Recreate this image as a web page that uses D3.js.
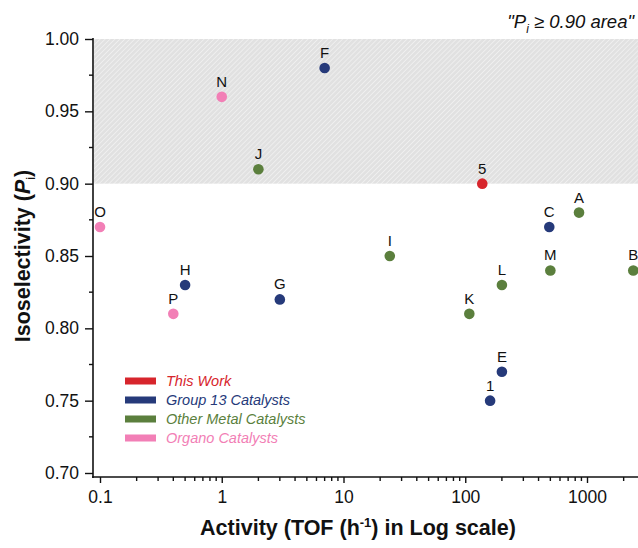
<!DOCTYPE html>
<html>
<head>
<meta charset="utf-8">
<script src="https://cdn.jsdelivr.net/npm/d3@7/dist/d3.min.js"></script>
<style>
  body { margin: 0; background: #fff; }
  svg { font-family: "Liberation Sans", Arial, sans-serif; }
</style>
</head>
<body>
<div id="chart"></div>
<script>
// data
const labels   = ['5', '1', 'A', 'B', 'C', 'E', 'F', 'G', 'H', 'I', 'J', 'K', 'L', 'M', 'N', 'O', 'P'];
const activity = [138, 160, 860, 2400, 490, 200, 7, 3, 0.5, 24, 2, 108, 200, 500, 1, 0.1, 0.4];
const isosel   = [0.90, 0.75, 0.88, 0.84, 0.87, 0.77, 0.98, 0.82, 0.83, 0.85, 0.91, 0.81, 0.83, 0.84, 0.96, 0.87, 0.81];
const groups   = ['work', 'g13', 'metal', 'metal', 'g13', 'g13', 'g13', 'g13', 'g13', 'metal', 'metal', 'metal', 'metal', 'metal', 'organo', 'organo', 'organo'];

const legendKeys  = ['work', 'g13', 'metal', 'organo'];
const legendNames = ['This Work', 'Group 13 Catalysts', 'Other Metal Catalysts', 'Organo Catalysts'];
const groupColors = ['#d7252c', '#263a7a', '#5b7f3d', '#f27fb6'];

const xMajor = [0.1, 1, 10, 100, 1000];
const yMajor = [0.70, 0.75, 0.80, 0.85, 0.90, 0.95, 1.00];
const threshold = 0.90;

const width = 638, height = 548;

const svg = d3.select('#chart').append('svg')
  .attr('width', width)
  .attr('height', height);

const x = d3.scaleLog().domain([0.1, 1000]).range([100, 587]);
const y = d3.scaleLinear().domain([0.70, 1.00]).range([473, 39]);
const color = d3.scaleOrdinal(legendKeys, groupColors);

const axisLeftX = 93, axisBottomY = 477;

// hatch pattern for the Pi >= 0.90 band
const defs = svg.append('defs');
const pat = defs.append('pattern')
  .attr('id', 'hatch')
  .attr('patternUnits', 'userSpaceOnUse')
  .attr('width', 3.5).attr('height', 3.5)
  .attr('patternTransform', 'rotate(45)');
pat.append('rect').attr('width', 3.5).attr('height', 3.5).attr('fill', '#e1e1e1');
pat.append('line')
  .attr('x1', 0).attr('y1', 0).attr('x2', 0).attr('y2', 3.5)
  .attr('stroke', '#f6f6f6').attr('stroke-width', 1.2);

svg.append('rect')
  .attr('x', axisLeftX + 1)
  .attr('y', y(1.00))
  .attr('width', width - axisLeftX - 1)
  .attr('height', y(threshold) - y(1.00))
  .attr('fill', 'url(#hatch)');

// area note
const note = svg.append('text')
  .attr('x', 634).attr('y', 28)
  .attr('text-anchor', 'end')
  .style('font-size', '18.5px')
  .style('font-style', 'italic')
  .attr('fill', '#111');
note.append('tspan').text('"P');
note.append('tspan').attr('dy', 5).style('font-size', '12px').text('i');
note.append('tspan').attr('dy', -5).text(' \u2265 0.90 area"');

// y axis
const yAxis = d3.axisLeft(y).tickValues(yMajor).tickSize(8).tickFormat(d3.format('.2f'));
const gy = svg.append('g')
  .attr('transform', `translate(${axisLeftX},0)`)
  .call(yAxis);
gy.select('.domain').remove();
gy.selectAll('.tick line').attr('stroke', '#111').attr('stroke-width', 1.4);
gy.selectAll('.tick text').style('font-size', '17.5px').attr('fill', '#111').attr('x', -14);

const yMinor = d3.range(0.725, 1.0, 0.05);
svg.append('g').selectAll('line')
  .data(yMinor)
  .join('line')
  .attr('x1', axisLeftX - 4).attr('x2', axisLeftX)
  .attr('y1', d => y(d)).attr('y2', d => y(d))
  .attr('stroke', '#111').attr('stroke-width', 1.4);

svg.append('line')
  .attr('x1', axisLeftX).attr('x2', axisLeftX)
  .attr('y1', y(1.00) - 1).attr('y2', axisBottomY + 1)
  .attr('stroke', '#111').attr('stroke-width', 1.6);

// x axis
const xAxis = d3.axisBottom(x).tickValues(xMajor).tickSize(6)
  .tickFormat(d => d < 1 ? d3.format('.1f')(d) : d3.format('d')(d));
const gx = svg.append('g')
  .attr('transform', `translate(0,${axisBottomY})`)
  .call(xAxis);
gx.select('.domain').remove();
gx.selectAll('.tick line').attr('stroke', '#111').attr('stroke-width', 1.4);
gx.selectAll('.tick text').style('font-size', '17.5px').attr('fill', '#111').attr('y', 14);

const xMinor = [];
xMajor.forEach(m => { for (let k = 2; k <= 9; k++) if (m * k <= 2500) xMinor.push(m * k); });
svg.append('g').selectAll('line')
  .data(xMinor)
  .join('line')
  .attr('x1', d => x(d)).attr('x2', d => x(d))
  .attr('y1', axisBottomY).attr('y2', axisBottomY + 4)
  .attr('stroke', '#111').attr('stroke-width', 1.4);

svg.append('line')
  .attr('x1', axisLeftX - 1).attr('x2', width)
  .attr('y1', axisBottomY).attr('y2', axisBottomY)
  .attr('stroke', '#111').attr('stroke-width', 1.6);

// axis titles
const xt = svg.append('text')
  .attr('x', 358).attr('y', 535)
  .attr('text-anchor', 'middle')
  .style('font-size', '21.5px').style('font-weight', 'bold')
  .attr('fill', '#111');
xt.append('tspan').text('Activity (TOF (h');
xt.append('tspan').attr('dy', -8).style('font-size', '13px').text('-1');
xt.append('tspan').attr('dy', 8).text(') in Log scale)');

const yt = svg.append('text')
  .attr('transform', 'translate(30,256) rotate(-90)')
  .attr('text-anchor', 'middle')
  .style('font-size', '21.5px').style('font-weight', 'bold')
  .attr('fill', '#111');
yt.append('tspan').text('Isoselectivity (');
yt.append('tspan').style('font-style', 'italic').text('P');
yt.append('tspan').attr('dy', 5).style('font-size', '13px').style('font-weight', 'normal').text('i');
yt.append('tspan').attr('dy', -5).text(')');

// points
const pts = labels.map((l, i) => ({ label: l, a: activity[i], p: isosel[i], g: groups[i] }));

svg.append('g').selectAll('circle')
  .data(pts)
  .join('circle')
  .attr('cx', d => x(d.a))
  .attr('cy', d => y(d.p))
  .attr('r', 5.3)
  .attr('fill', d => color(d.g));

svg.append('g').selectAll('text')
  .data(pts)
  .join('text')
  .attr('x', d => x(d.a))
  .attr('y', d => y(d.p) - 10)
  .attr('text-anchor', 'middle')
  .style('font-size', '15px')
  .attr('fill', '#111')
  .text(d => d.label);

// legend
const legend = svg.append('g').attr('transform', 'translate(125,381)');
legendKeys.forEach((k, i) => {
  const row = legend.append('g').attr('transform', `translate(0,${i * 19})`);
  row.append('rect')
    .attr('x', 0).attr('y', -3.5)
    .attr('width', 31).attr('height', 7)
    .attr('fill', color(k));
  row.append('text')
    .attr('x', 41).attr('y', 5)
    .style('font-size', '14.5px').style('font-style', 'italic')
    .attr('fill', color(k))
    .text(legendNames[i]);
});
</script>
</body>
</html>
